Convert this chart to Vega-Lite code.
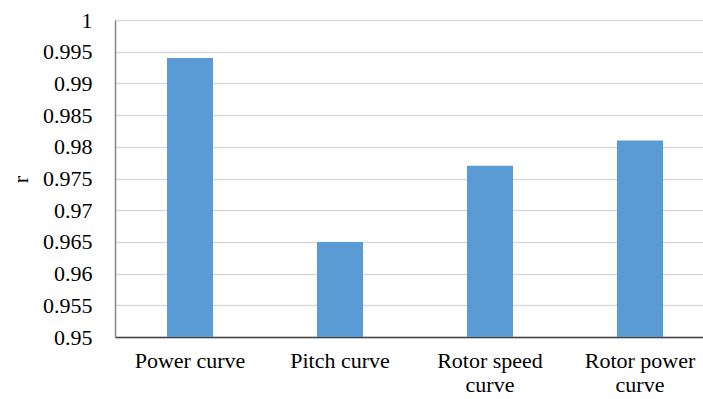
{
  "$schema": "https://vega.github.io/schema/vega-lite/v6.json",
  "autosize": {"type": "none"},
  "width": 600,
  "height": 317,
  "padding": {"left": 115, "top": 20, "right": 0, "bottom": 62},
  "background": "white",
  "config": {
    "view": {"stroke": null},
    "font": "serif"
  },
  "data": {
    "values": [
      {"category": "Power curve", "r": 0.994},
      {"category": "Pitch curve", "r": 0.965},
      {"category": "Rotor speed curve", "r": 0.977},
      {"category": "Rotor power curve", "r": 0.981}
    ]
  },
  "mark": {"type": "bar", "color": "#5B9BD5", "clip": true},
  "encoding": {
    "x": {
      "field": "category",
      "type": "nominal",
      "sort": null,
      "scale": {"paddingInner": 0.693, "paddingOuter": 0.3465},
      "axis": {
        "title": null,
        "labelAngle": 0,
        "labelFont": "serif",
        "labelFontSize": 22,
        "labelColor": "#000000",
        "labelPadding": 13,
        "labelLineHeight": 24,
        "labelBaseline": "top",
        "ticks": false,
        "domainColor": "#404040",
        "domainWidth": 1.5,
        "labelExpr": "datum.label == 'Rotor speed curve' ? ['Rotor speed', 'curve'] : datum.label == 'Rotor power curve' ? ['Rotor power', 'curve'] : datum.label"
      }
    },
    "y": {
      "field": "r",
      "type": "quantitative",
      "scale": {"domain": [0.95, 1], "zero": false, "nice": false},
      "axis": {
        "title": "r",
        "titleFont": "serif",
        "titleFontSize": 22,
        "titleFontWeight": "normal",
        "titleColor": "#000000",
        "titleAngle": -90,
        "titleX": -88,
        "titleY": 159,
        "titleAlign": "center",
        "titleBaseline": "alphabetic",
        "values": [0.95, 0.955, 0.96, 0.965, 0.97, 0.975, 0.98, 0.985, 0.99, 0.995, 1],
        "labelExpr": "datum.value == 1 ? '1' : format(datum.value, '.3~f')",
        "labelFont": "serif",
        "labelFontSize": 22,
        "labelColor": "#000000",
        "labelPadding": 23,
        "ticks": false,
        "domainColor": "#868686",
        "domainWidth": 1.5,
        "grid": true,
        "gridColor": "#D9D9D9",
        "gridWidth": 1.3
      }
    }
  }
}
